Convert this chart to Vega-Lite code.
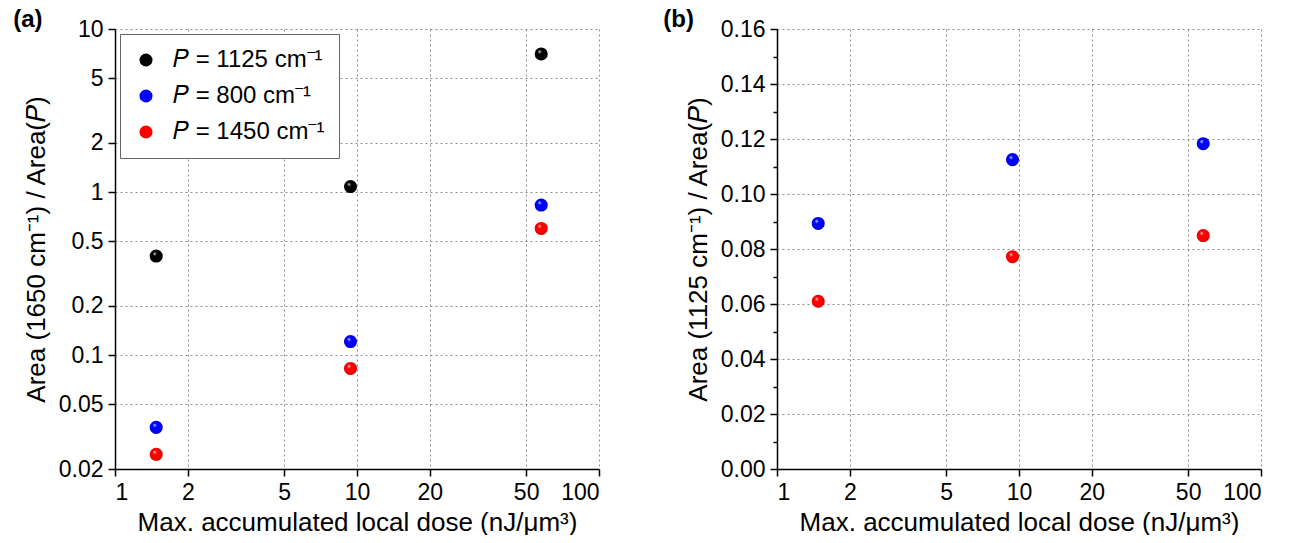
{
  "$schema": "https://vega.github.io/schema/vega-lite/v6.json",
  "background": "white",
  "padding": {"left": 13, "top": 8, "right": 5, "bottom": 0},
  "spacing": 63,
  "config": {
    "font": "Liberation Sans",
    "view": {"stroke": null},
    "axis": {
      "domainColor": "black", "domainWidth": 1.5,
      "tickColor": "black", "tickWidth": 1.5, "tickSize": 7,
      "labelFont": "Liberation Sans", "labelFontSize": 23, "labelColor": "black", "labelPadding": 5,
      "titleFont": "Liberation Sans", "titleFontSize": 26, "titleFontWeight": "normal", "titleColor": "black", "titlePadding": 9,
      "gridColor": "#8c8c8c", "gridDash": [2, 3], "gridWidth": 1
    },
    "axisX": {"titlePadding": 5},
    "legend": {
      "orient": "top-left", "offset": 5, "padding": 14,
      "strokeColor": "#666666", "fillColor": "white",
      "labelFont": "Liberation Sans", "labelFontSize": 24, "labelColor": "black", "labelOffset": 15,
      "symbolType": "circle", "symbolSize": 170, "symbolStrokeWidth": 0, "rowPadding": 12
    },
    "title": {"fontSize": 24, "fontWeight": "bold", "anchor": "start", "color": "black", "font": "Liberation Sans", "offset": -12}
  },
  "datasets": {
    "a": [
      {"dose": 1.48, "ratio": 0.405, "P": "𝑃 = 1125 cm⁻¹"},
      {"dose": 9.4, "ratio": 1.08, "P": "𝑃 = 1125 cm⁻¹"},
      {"dose": 57.7, "ratio": 7.03, "P": "𝑃 = 1125 cm⁻¹"},
      {"dose": 1.48, "ratio": 0.036, "P": "𝑃 = 800 cm⁻¹"},
      {"dose": 9.4, "ratio": 0.121, "P": "𝑃 = 800 cm⁻¹"},
      {"dose": 57.7, "ratio": 0.832, "P": "𝑃 = 800 cm⁻¹"},
      {"dose": 1.48, "ratio": 0.0246, "P": "𝑃 = 1450 cm⁻¹"},
      {"dose": 9.4, "ratio": 0.0828, "P": "𝑃 = 1450 cm⁻¹"},
      {"dose": 57.7, "ratio": 0.598, "P": "𝑃 = 1450 cm⁻¹"}
    ],
    "b": [
      {"dose": 1.48, "ratio": 0.0893, "P": "𝑃 = 800 cm⁻¹"},
      {"dose": 9.4, "ratio": 0.1125, "P": "𝑃 = 800 cm⁻¹"},
      {"dose": 57.7, "ratio": 0.1183, "P": "𝑃 = 800 cm⁻¹"},
      {"dose": 1.48, "ratio": 0.061, "P": "𝑃 = 1450 cm⁻¹"},
      {"dose": 9.4, "ratio": 0.0772, "P": "𝑃 = 1450 cm⁻¹"},
      {"dose": 57.7, "ratio": 0.0849, "P": "𝑃 = 1450 cm⁻¹"}
    ]
  },
  "hconcat": [
    {
      "title": {"text": "(a)", "dx": -10, "dy": 2},
      "width": 484,
      "height": 440,
      "data": {"name": "a"},
      "encoding": {
        "x": {
          "field": "dose", "type": "quantitative",
          "scale": {"type": "log", "domain": [1, 100], "nice": false},
          "axis": {"values": [1, 2, 5, 10, 20, 50, 100], "format": "~g", "title": "Max. accumulated local dose (nJ/μm³)"}
        },
        "y": {
          "field": "ratio", "type": "quantitative",
          "scale": {"type": "log", "domain": [0.02, 10], "nice": false},
          "axis": {"values": [0.02, 0.05, 0.1, 0.2, 0.5, 1, 2, 5, 10], "format": "~g", "title": "Area (1650 cm⁻¹) / Area(𝑃)"}
        }
      },
      "layer": [
        {
          "mark": {"type": "circle", "size": 170, "opacity": 1},
          "encoding": {
            "color": {
              "field": "P", "type": "nominal",
              "scale": {"domain": ["𝑃 = 1125 cm⁻¹", "𝑃 = 800 cm⁻¹", "𝑃 = 1450 cm⁻¹"], "range": ["#000000", "#0000ff", "#ff0000"]},
              "legend": {"title": null}
            }
          }
        },
        {
          "mark": {
            "type": "circle", "size": 170, "opacity": 1,
            "fill": {"gradient": "radial", "x1": 0.36, "y1": 0.3, "r1": 0, "x2": 0.5, "y2": 0.5, "r2": 0.55,
              "stops": [
                {"offset": 0, "color": "rgba(255,255,255,0.95)"},
                {"offset": 0.28, "color": "rgba(255,255,255,0)"},
                {"offset": 0.75, "color": "rgba(0,0,0,0)"},
                {"offset": 1, "color": "rgba(0,0,0,0.35)"}
              ]}
          },
          "encoding": {}
        }
      ]
    },
    {
      "title": {"text": "(b)", "dx": -22, "dy": 2},
      "width": 484,
      "height": 440,
      "data": {"name": "b"},
      "resolve": {"axis": {"y": "independent"}},
      "layer": [
        {
          "mark": {"type": "circle", "size": 170, "opacity": 1},
          "encoding": {
            "x": {
              "field": "dose", "type": "quantitative",
              "scale": {"type": "log", "domain": [1, 100], "nice": false},
              "axis": {"values": [1, 2, 5, 10, 20, 50, 100], "format": "~g", "title": "Max. accumulated local dose (nJ/μm³)"}
            },
            "y": {
              "field": "ratio", "type": "quantitative",
              "scale": {"domain": [0, 0.16], "nice": false, "zero": true},
              "axis": {"values": [0, 0.02, 0.04, 0.06, 0.08, 0.1, 0.12, 0.14, 0.16], "format": ".2f", "title": "Area (1125 cm⁻¹) / Area(𝑃)", "orient": "left"}
            },
            "color": {
              "field": "P", "type": "nominal",
              "scale": {"domain": ["𝑃 = 800 cm⁻¹", "𝑃 = 1450 cm⁻¹"], "range": ["#0000ff", "#ff0000"]},
              "legend": {"title": null}
            }
          }
        },
        {
          "mark": {
            "type": "circle", "size": 170, "opacity": 1,
            "fill": {"gradient": "radial", "x1": 0.36, "y1": 0.3, "r1": 0, "x2": 0.5, "y2": 0.5, "r2": 0.55,
              "stops": [
                {"offset": 0, "color": "rgba(255,255,255,0.95)"},
                {"offset": 0.28, "color": "rgba(255,255,255,0)"},
                {"offset": 0.75, "color": "rgba(0,0,0,0)"},
                {"offset": 1, "color": "rgba(0,0,0,0.35)"}
              ]}
          },
          "encoding": {
            "x": {"field": "dose", "type": "quantitative"},
            "y": {
              "field": "ratio", "type": "quantitative",
              "axis": {"orient": "left", "values": [0.01, 0.03, 0.05, 0.07, 0.09, 0.11, 0.13, 0.15], "labels": false, "domain": false, "grid": false, "tickSize": 4, "title": null}
            }
          }
        }
      ]
    }
  ]
}
